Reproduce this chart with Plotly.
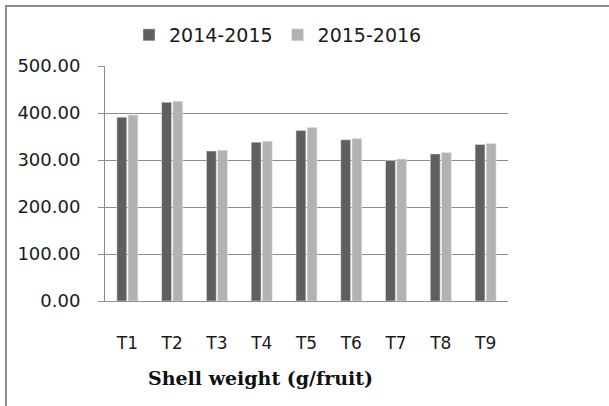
import plotly.graph_objects as go

categories = ["T1", "T2", "T3", "T4", "T5", "T6", "T7", "T8", "T9"]
s2014 = [391, 423, 319, 338, 363, 343, 299, 313, 333]
s2015 = [396, 425, 321, 340, 369, 346, 302, 316, 335]
ytick_vals = [0, 100, 200, 300, 400, 500]
ytick_text = ["0.00", "100.00", "200.00", "300.00", "400.00", "500.00"]

L, R, T, B = 105, 101, 66, 105
W, H = 609, 406
pw, ph = W - L - R, H - T - B

def px(x):
    return (x - L) / pw

def py(y):
    return (H - B - y) / ph

fig = go.Figure()
fig.add_trace(go.Bar(x=categories, y=s2014, name="2014-2015", marker_color="#5f5f5f"))
fig.add_trace(go.Bar(x=categories, y=s2015, name="2015-2016", marker_color="#b2b2b2"))

border = dict(color="#8c8c8c", width=2)
fig.update_layout(
    width=W, height=H,
    margin=dict(l=L, r=R, t=T, b=B, autoexpand=False),
    paper_bgcolor="white", plot_bgcolor="white",
    barmode="group", bargap=0.5, bargroupgap=0.12,
    font=dict(family="DejaVu Sans", size=16, color="#1a1a1a"),
    showlegend=True,
    legend=dict(orientation="h", x=px(278), xanchor="center", y=py(35), yanchor="middle",
                font=dict(size=19), itemwidth=30, traceorder="normal"),
    xaxis=dict(showline=True, linecolor="#8c8c8c", linewidth=1, ticks="",
               tickfont=dict(size=17), ticklabelstandoff=27, showgrid=False),
    yaxis=dict(range=[0, 500], tickvals=ytick_vals, ticktext=ytick_text,
               showgrid=True, gridcolor="#8c8c8c", gridwidth=1,
               showline=True, linecolor="#8c8c8c", linewidth=1,
               ticks="outside", ticklen=6, tickcolor="#8c8c8c",
               tickfont=dict(size=18), ticklabelstandoff=14, zeroline=False),
    annotations=[dict(text="<b>Shell weight (g/fruit)</b>", xref="paper", yref="paper",
                      x=px(260), y=py(378), xanchor="center", yanchor="middle",
                      showarrow=False,
                      font=dict(family="DejaVu Serif", size=19, color="#111111"))],
    shapes=[
        dict(type="line", xref="paper", yref="paper",
             x0=px(5), x1=px(609), y0=py(6), y1=py(6), line=border),
        dict(type="line", xref="paper", yref="paper",
             x0=px(6), x1=px(6), y0=py(6), y1=py(406), line=border),
    ],
)

fig.write_html("out.html", config={"displayModeBar": False},
               post_script="document.body.style.margin='0';document.body.style.overflow='hidden';")
